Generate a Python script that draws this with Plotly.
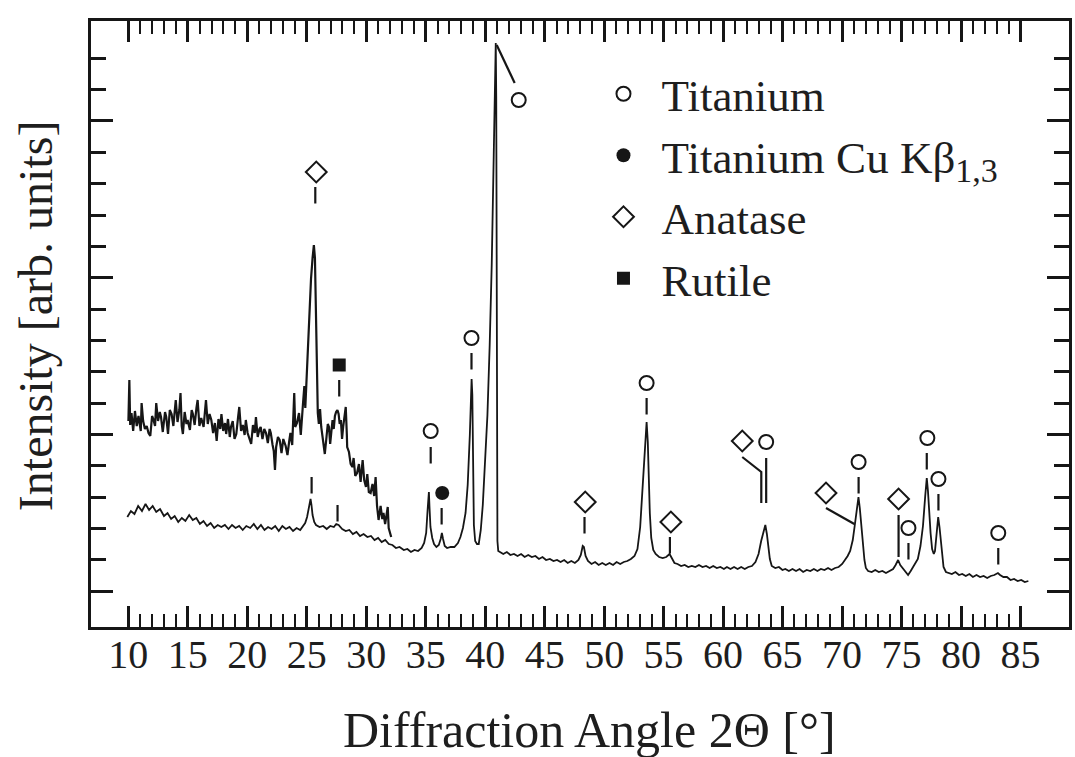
import plotly.graph_objects as go

# ---- XRD scan of the oxidised titanium sample (2θ in degrees, arb. units) ----
scan_2theta = [
    9.92, 10.22, 10.52, 10.83, 11.15, 11.45, 11.75, 12.05, 12.35, 12.67, 13.0, 13.3, 13.6,
    13.9, 14.2, 14.5, 14.8, 15.12, 15.42, 15.72, 16.02, 16.32, 16.62, 16.92, 17.22, 17.52,
    17.82, 18.12, 18.42, 18.72, 19.02, 19.32, 19.62, 19.92, 20.25, 20.55, 20.85, 21.15,
    21.45, 21.75, 22.05, 22.35, 22.65, 22.95, 23.25, 23.55, 23.85, 24.15, 24.45, 24.66,
    24.87, 25.03, 25.14, 25.25, 25.32, 25.4, 25.49, 25.63, 25.78, 26.08, 26.38, 26.68,
    26.98, 27.28, 27.48, 27.68, 27.98, 28.28, 28.58, 28.88, 29.18, 29.48, 29.78, 30.1,
    30.4, 30.7, 31.0, 31.3, 31.6, 31.9, 32.2, 32.5, 32.8, 33.16, 33.46, 33.76, 34.06,
    34.36, 34.66, 34.87, 35.04, 35.16, 35.27, 35.32, 35.4, 35.55, 35.7, 35.9, 36.1, 36.26,
    36.36, 36.46, 36.6, 36.8, 37.1, 37.41, 37.71, 37.92, 38.13, 38.35, 38.53, 38.71,
    38.86, 38.92, 38.95, 39.0, 39.05, 39.16, 39.31, 39.46, 39.63, 39.8, 39.99, 40.19,
    40.38, 40.55, 40.72, 40.89, 40.93, 40.95, 40.96, 40.98, 41.03, 41.1, 41.22, 41.52,
    41.82, 42.12, 42.42, 42.72, 43.02, 43.32, 43.62, 43.92, 44.22, 44.52, 44.82, 45.12,
    45.44, 45.74, 46.04, 46.34, 46.64, 46.94, 47.24, 47.54, 47.84, 48.04, 48.2, 48.3,
    48.44, 48.64, 48.94, 49.24, 49.54, 49.84, 50.14, 50.45, 50.75, 51.05, 51.35, 51.65,
    51.95, 52.25, 52.55, 52.8, 53.03, 53.22, 53.41, 53.57, 53.67, 53.75, 53.84, 53.96,
    54.13, 54.33, 54.62, 54.92, 55.22, 55.5, 55.71, 55.91, 56.17, 56.47, 56.77, 57.07,
    57.37, 57.67, 57.97, 58.27, 58.57, 58.87, 59.17, 59.47, 59.77, 60.07, 60.32, 60.62,
    60.92, 61.22, 61.52, 61.82, 62.12, 62.42, 62.72, 62.98, 63.2, 63.38, 63.55, 63.68,
    63.8, 63.93, 64.09, 64.39, 64.69, 64.99, 65.23, 65.53, 65.83, 66.13, 66.43, 66.73,
    67.03, 67.33, 67.63, 67.93, 68.22, 68.52, 68.82, 69.11, 69.41, 69.71, 70.01, 70.21,
    70.47, 70.68, 70.9, 71.06, 71.24, 71.38, 71.49, 71.62, 71.75, 71.88, 72.0, 72.19,
    72.49, 72.79, 73.09, 73.39, 73.69, 73.99, 74.29, 74.5, 74.71, 74.89, 75.07, 75.32,
    75.55, 75.77, 75.97, 76.17, 76.37, 76.59, 76.8, 76.99, 77.12, 77.22, 77.34, 77.44,
    77.57, 77.71, 77.81, 77.94, 78.08, 78.19, 78.29, 78.41, 78.53, 78.73, 78.93, 79.23,
    79.53, 79.83, 80.1, 80.4, 80.7, 81.0, 81.3, 81.6, 81.9, 82.2, 82.5, 82.8, 83.1,
    83.28, 83.56, 83.86, 84.16, 84.46, 84.76, 85.06, 85.36, 85.66,
]
scan_counts = [
    110, 116, 113, 121, 116, 123, 117, 121, 115, 118, 111, 114, 108,
    111, 105, 109, 106, 112, 107, 109, 103, 106, 101, 104, 99, 102,
    100, 102, 98, 102, 99, 101, 97, 101, 99, 103, 98, 102,
    97, 100, 98, 101, 96, 101, 98, 100, 96, 99, 97, 100,
    104, 110, 118, 125, 128, 122, 112, 105, 102, 100, 101, 98,
    101, 100, 103, 102, 98, 96, 97, 93, 95, 91, 93, 90,
    91, 87, 89, 85, 87, 83, 82, 79, 80, 77, 78, 75, 77,
    76, 79, 84, 94, 117, 135, 120, 100, 89, 83, 80, 82, 88,
    94, 88, 81, 79, 80, 80, 84, 90, 99, 114, 142, 192,
    248, 232, 194, 142, 102, 86, 83, 83, 97, 122, 162, 212,
    282, 362, 472, 584, 531, 401, 251, 131, 86, 76, 75, 73,
    75, 72, 73, 71, 73, 70, 72, 70, 71, 68, 70, 67,
    68, 66, 67, 65, 67, 64, 66, 64, 67, 72, 81, 80,
    71, 66, 63, 65, 62, 64, 62, 64, 62, 65, 63, 65,
    66, 68, 71, 78, 100, 135, 175, 205, 185, 150, 114, 89,
    77, 73, 70, 69, 70, 73, 69, 64, 63, 61, 62, 60,
    61, 60, 62, 60, 61, 59, 61, 59, 60, 58, 60, 58,
    60, 58, 60, 58, 60, 61, 65, 73, 86, 96, 102, 93,
    78, 68, 61, 59, 60, 57, 58, 56, 58, 56, 58, 55,
    57, 56, 58, 56, 58, 57, 59, 57, 59, 60, 63, 66,
    71, 76, 87, 101, 119, 130, 119, 99, 82, 67, 59, 56,
    55, 57, 55, 56, 54, 56, 58, 62, 67, 62, 59, 55,
    52, 56, 60, 64, 68, 81, 101, 131, 149, 136, 111, 94,
    78, 73, 76, 91, 110, 100, 86, 71, 60, 55, 54, 53,
    55, 52, 53, 51, 53, 50, 52, 50, 51, 49, 51, 52, 54,
    52, 50, 50, 47, 48, 46, 47, 45, 46,
]

# ---- low-angle part of the same scan, magnified and shifted upward ----
zoom_2theta = [
    10.01, 10.09, 10.16, 10.27, 10.41, 10.56, 10.71, 10.86, 11.05, 11.12, 11.25, 11.4,
    11.55, 11.7, 11.85, 12.0, 12.1, 12.25, 12.35, 12.5, 12.65, 12.75, 12.9, 13.09, 13.19,
    13.34, 13.49, 13.64, 13.79, 13.99, 14.14, 14.29, 14.39, 14.49, 14.59, 14.74, 14.89,
    14.99, 15.18, 15.33, 15.43, 15.58, 15.73, 15.83, 15.98, 16.13, 16.33, 16.43, 16.53,
    16.68, 16.83, 16.98, 17.13, 17.28, 17.43, 17.58, 17.73, 17.83, 17.98, 18.13, 18.23,
    18.38, 18.53, 18.63, 18.78, 18.93, 19.08, 19.23, 19.33, 19.48, 19.63, 19.78, 19.88,
    20.03, 20.18, 20.33, 20.48, 20.63, 20.73, 20.88, 21.03, 21.13, 21.28, 21.43, 21.58,
    21.73, 21.88, 21.98, 22.13, 22.23, 22.33, 22.43, 22.58, 22.73, 22.88, 23.03, 23.23,
    23.38, 23.53, 23.63, 23.78, 23.95, 24.03, 24.18, 24.35, 24.5, 24.69, 24.8, 24.88,
    25.03, 25.22, 25.36, 25.49, 25.6, 25.69, 25.75, 25.82, 25.87, 25.93, 26.02, 26.12,
    26.22, 26.37, 26.52, 26.67, 26.77, 26.87, 26.97, 27.07, 27.17, 27.27, 27.37, 27.47,
    27.58, 27.68, 27.77, 27.87, 27.97, 28.07, 28.17, 28.28, 28.37, 28.4, 28.55, 28.69,
    28.84, 28.94, 29.08, 29.23, 29.39, 29.53, 29.7, 29.83, 29.98, 30.09, 30.22, 30.37,
    30.53, 30.67, 30.79, 30.91, 31.04, 31.21, 31.35, 31.45, 31.59, 31.69, 31.81, 31.89,
    32.1,
]
zoom_counts = [
    206, 247, 202, 214, 196, 216, 201, 211, 196, 224, 206, 198,
    201, 194, 191, 211, 208, 201, 224, 206, 215, 210, 195, 215, 210,
    193, 217, 213, 201, 227, 205, 217, 234, 201, 193, 215, 203,
    207, 197, 217, 213, 202, 219, 227, 201, 209, 200, 215, 227,
    203, 213, 207, 194, 204, 186, 208, 198, 213, 196, 204, 193,
    208, 190, 200, 206, 188, 193, 210, 220, 196, 202, 192, 207,
    194, 188, 183, 202, 194, 210, 190, 198, 200, 188, 198, 194,
    184, 198, 194, 182, 176, 157, 180, 190, 187, 174, 188, 181,
    172, 186, 194, 182, 234, 200, 204, 214, 192, 224, 241, 219,
    264, 304, 348, 369, 382, 369, 334, 301, 254, 214, 203, 218,
    200, 188, 173, 191, 203, 200, 183, 195, 207, 198, 211, 215,
    217, 213, 203, 207, 188, 201, 209, 220, 193, 180, 175, 163,
    160, 169, 151, 154, 163, 145, 167, 147, 140, 153, 135, 134,
    143, 131, 150, 121, 107, 121, 108, 114, 103, 109, 120, 99,
    90,
]

# ---- phase identification symbols (2θ and symbol height) ----
titanium_2theta = [35.42, 38.85, 42.82, 53.57, 63.62, 71.39, 75.58, 77.17, 78.1, 83.13]
titanium_y = [196, 289, 527, 244, 185, 165, 99, 189, 148, 94]
kbeta_2theta = [36.39]
kbeta_y = [134]
anatase_2theta = [25.8, 48.41, 55.61, 61.61, 68.65, 74.75]
anatase_y = [455, 125, 105, 186, 134, 128]
rutile_2theta = [27.73]
rutile_y = [262]

# short reflection dashes: position and upper end
dash_2theta = [25.72, 27.73, 35.42, 36.34, 38.85, 48.35, 53.57, 55.53, 71.39, 75.58,
               77.12, 78.1, 83.13, 25.41, 27.59]
dash_top = [440, 247, 180, 119, 274, 110, 229, 90, 150, 84, 174, 133, 79, 150, 122]
DASH_LEN = 16.5

# leader lines joining symbols that sit beside their peaks
leader_2theta = [40.97, 42.48, None, 61.61, 63.21, 63.21, None, 63.62, 63.62, None,
                 68.65, 71.03, None, 74.75, 74.75]
leader_y = [582, 544, None, 170, 155, 124, None, 169, 124, None,
            119, 103, None, 112, 70]

x_major = list(range(10, 86, 5))
x_minor = list(range(10, 86))
y_tick0, y_step = 35.8, 31.35
y_minor = [y_tick0 + k * y_step for k in range(18)]
y_major = y_minor[::5]

INK = "#161616"
TEXT = "#1e1e1e"
SERIF = "Liberation Serif, Times New Roman, serif"

fig = go.Figure()

fig.add_trace(go.Scatter(x=scan_2theta, y=scan_counts, mode="lines",
                         line=dict(color=INK, width=1.8), showlegend=False,
                         hoverinfo="skip"))
fig.add_trace(go.Scatter(x=zoom_2theta, y=zoom_counts, mode="lines",
                         line=dict(color=INK, width=2.2), showlegend=False,
                         hoverinfo="skip"))

dx, dy = [], []
for a, top in zip(dash_2theta, dash_top):
    dx += [a, a, None]
    dy += [top, top - DASH_LEN, None]
fig.add_trace(go.Scatter(x=dx, y=dy, mode="lines", line=dict(color=INK, width=2.2),
                         showlegend=False, hoverinfo="skip"))
fig.add_trace(go.Scatter(x=leader_2theta, y=leader_y, mode="lines",
                         line=dict(color=INK, width=2.2), showlegend=False,
                         hoverinfo="skip", connectgaps=False))

fig.add_trace(go.Scatter(
    x=titanium_2theta, y=titanium_y, mode="markers", name="Titanium",
    marker=dict(symbol="circle-open", size=14, color=INK, line=dict(width=2, color=INK))))
fig.add_trace(go.Scatter(
    x=kbeta_2theta, y=kbeta_y, mode="markers",
    name='Titanium Cu Kβ<sub><span style="font-size:34px">1,3</span></sub>',
    marker=dict(symbol="circle", size=14, color=INK)))
fig.add_trace(go.Scatter(
    x=anatase_2theta, y=anatase_y, mode="markers", name="Anatase",
    marker=dict(symbol="diamond-open", size=16, color=INK, line=dict(width=2, color=INK))))
fig.add_trace(go.Scatter(
    x=rutile_2theta, y=rutile_y, mode="markers", name="Rutile",
    marker=dict(symbol="square", size=13, color=INK)))

axis_common = dict(
    showline=True, linewidth=2.5, linecolor=INK, mirror="ticks",
    ticks="inside", tickwidth=2.5, tickcolor=INK,
    showgrid=False, zeroline=False,
)

fig.update_layout(
    width=1075, height=757,
    margin=dict(l=91, r=3, t=21, b=130),
    paper_bgcolor="white", plot_bgcolor="white",
    xaxis=dict(
        range=[6.866, 89.076], tickmode="array", tickvals=x_major,
        ticktext=[str(v) for v in x_major], ticklen=21, ticklabelstandoff=-10,
        tickfont=dict(family=SERIF, size=40, color=TEXT),
        minor=dict(tickmode="array", tickvals=x_minor, ticks="inside", ticklen=13,
                   tickwidth=2.2, tickcolor=INK, showgrid=False),
        **axis_common,
    ),
    yaxis=dict(
        range=[0, 606], tickmode="array", tickvals=y_major, showticklabels=False,
        ticklen=22,
        minor=dict(tickmode="array", tickvals=y_minor, ticks="inside", ticklen=15,
                   tickwidth=2.5, tickcolor=INK, showgrid=False),
        **axis_common,
    ),
    legend=dict(
        x=(587 - 91) / 981, y=(627 - 58) / 606, xanchor="left", yanchor="top",
        font=dict(family=SERIF, size=45, color=TEXT),
        bgcolor="rgba(0,0,0,0)", borderwidth=0, itemwidth=66,
    ),
    annotations=[
        dict(text="Diffraction Angle 2Θ [°]", xref="paper", yref="paper",
             x=(591 - 91) / 981, y=(627 - 730) / 606, showarrow=False,
             xanchor="center", yanchor="middle",
             font=dict(family=SERIF, size=50, color=TEXT)),
        dict(text="Intensity [arb. units]", xref="paper", yref="paper",
             x=(36 - 91) / 981, y=(627 - 316) / 606, showarrow=False, textangle=-90,
             xanchor="center", yanchor="middle",
             font=dict(family=SERIF, size=48, color=TEXT)),
    ],
)

fig.write_html("out.html")
